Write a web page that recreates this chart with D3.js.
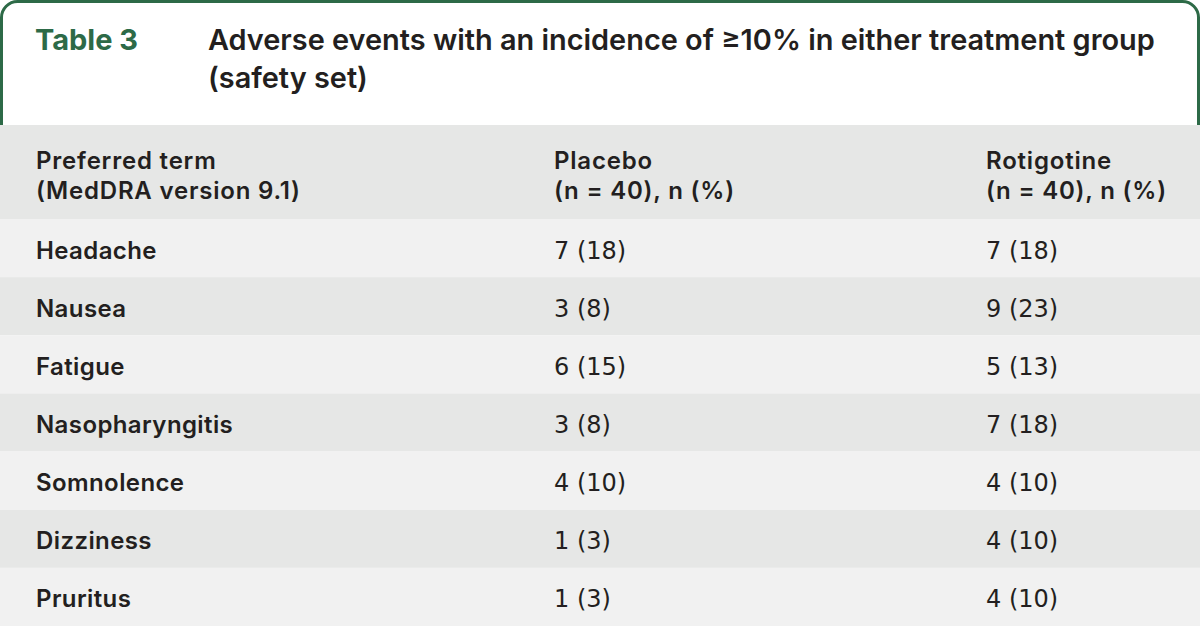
<!DOCTYPE html>
<html><head><meta charset="utf-8">
<script src="https://cdn.jsdelivr.net/npm/d3@7"></script>
<style>
html,body{margin:0;padding:0;background:#fff;}
svg text{font-family:Inter,"Open Sans",sans-serif;}
</style></head>
<body>
<svg id="c" width="1200" height="626"></svg>
<script>
const tableLabel = "Table 3";
const titleLines = ["Adverse events with an incidence of \u226510% in either treatment group", "(safety set)"];
const headerCol1 = ["Preferred term", "(MedDRA version 9.1)"];
const headerCol2 = ["Placebo", "(n = 40), n (%)"];
const headerCol3 = ["Rotigotine", "(n = 40), n (%)"];
const terms = ["Headache","Nausea","Fatigue","Nasopharyngitis","Somnolence","Dizziness","Pruritus"];
const placeboN = [7,3,6,3,4,1,1];
const placeboPct = [18,8,15,8,10,3,3];
const rotigotineN = [7,9,5,7,4,4,4];
const rotigotinePct = [18,23,13,18,10,10,10];

const W = 1200, H = 626;
const svg = d3.select("#c");
const green = "#2d6a47", ink = "#231f20";
const light = "#f1f1f1", dark = "#e6e7e6";

// header band
const headTop = 125, headBot = 219;
svg.append("rect").attr("x",0).attr("y",headTop).attr("width",W).attr("height",headBot-headTop).attr("fill",dark);

// rows
const y = d3.scaleBand().domain(terms).range([headBot, H]).padding(0);
const cols = d3.scaleOrdinal().domain(["term","placebo","rotigotine"]).range([36, 554, 986]);

const rows = svg.append("g").selectAll("g").data(terms).join("g")
  .attr("transform", d => `translate(0,${y(d)})`);
rows.append("rect").attr("width", W).attr("height", y.bandwidth())
  .attr("fill", (d,i) => i % 2 === 0 ? light : dark);
rows.append("text").attr("x", cols("term")).attr("y", 39.5)
  .attr("font-size", 24).attr("font-weight", 600).attr("letter-spacing", 0.4).attr("fill", ink).text(d => d);
rows.append("text").attr("x", cols("placebo")).attr("y", 39.5)
  .attr("font-size", 24).attr("font-weight", 400).attr("fill", ink)
  .style("font-family", "'DejaVu Sans', sans-serif")
  .text((d,i) => `${placeboN[i]} (${placeboPct[i]})`);
rows.append("text").attr("x", cols("rotigotine")).attr("y", 39.5)
  .attr("font-size", 24).attr("font-weight", 400).attr("fill", ink)
  .style("font-family", "'DejaVu Sans', sans-serif")
  .text((d,i) => `${rotigotineN[i]} (${rotigotinePct[i]})`);

// header texts
[[headerCol1,"term"],[headerCol2,"placebo"],[headerCol3,"rotigotine"]].forEach(([lines,k]) => {
  lines.forEach((t,j) => {
    svg.append("text").attr("x", cols(k)).attr("y", 169 + j*30)
      .attr("font-size", 24).attr("font-weight", 600).attr("letter-spacing", 0.8).attr("fill", ink).text(t);
  });
});

// top frame with rounded corners
const r = 16, bw = 3;
const fr = d3.path();
fr.moveTo(bw/2, headTop);
fr.lineTo(bw/2, r + bw/2);
fr.arcTo(bw/2, bw/2, r + bw/2, bw/2, r);
fr.lineTo(W - r - bw/2, bw/2);
fr.arcTo(W - bw/2, bw/2, W - bw/2, r + bw/2, r);
fr.lineTo(W - bw/2, headTop);
svg.append("path").attr("d", fr.toString()).attr("fill","none").attr("stroke",green).attr("stroke-width",bw);

svg.append("text").attr("x",35).attr("y",49.5).attr("font-size",29).attr("font-weight",700).attr("fill",green).text(tableLabel);
titleLines.forEach((t,j) => {
  svg.append("text").attr("x",208).attr("y",49.5 + j*38).attr("font-size",28.9).attr("font-weight",600).attr("fill",ink).text(t);
});
</script>
</body></html>
